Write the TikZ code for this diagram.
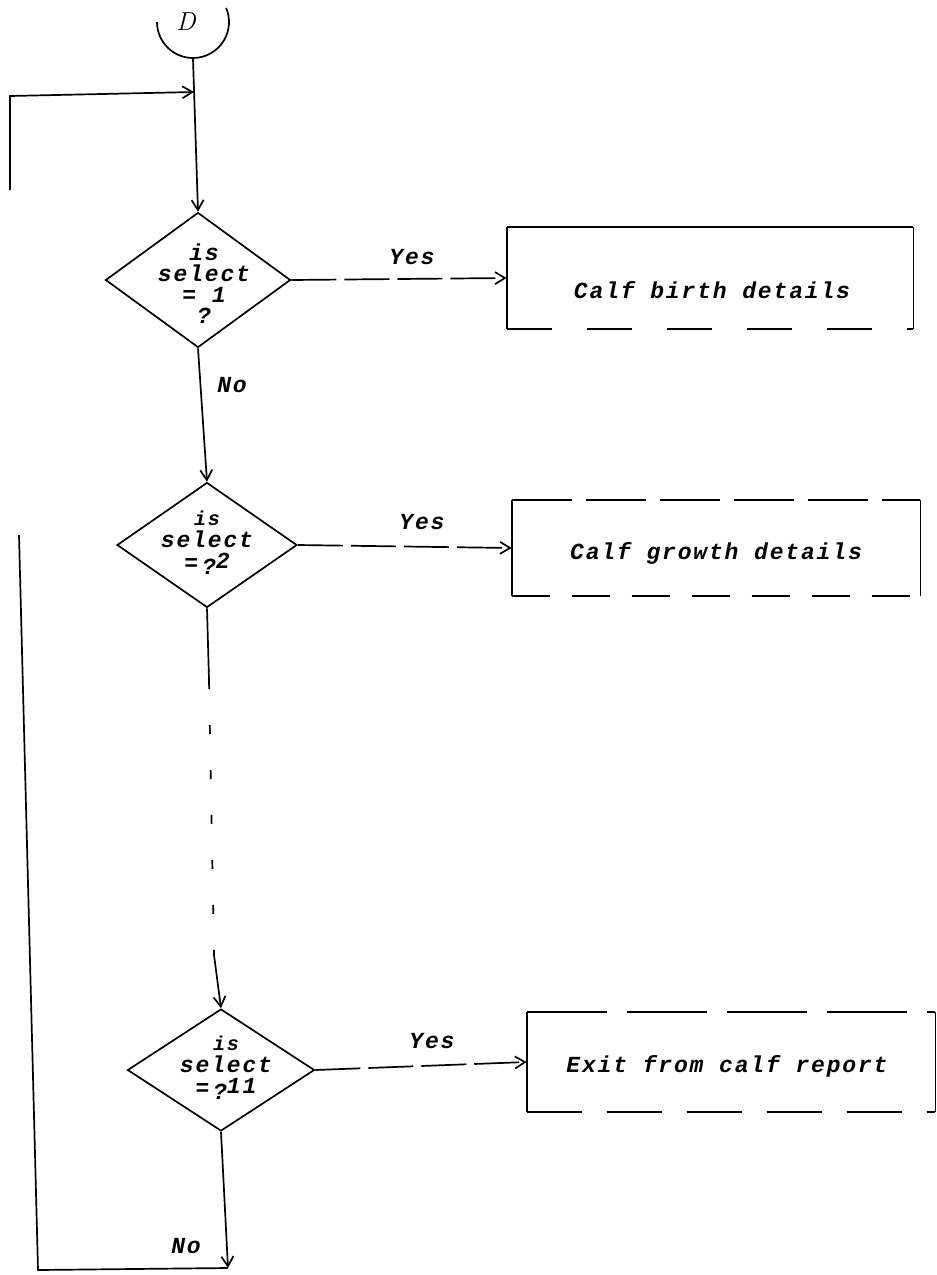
\documentclass[tikz,border=0pt]{standalone}
\usepackage{fontspec}
\newfontfamily\tw[LetterSpace=8]{Liberation Mono}
\usetikzlibrary{arrows.meta,shapes.geometric}
\begin{document}
\begin{tikzpicture}[x=1pt,y=-1pt,line width=1.7pt,
  >={Straight Barb[length=10pt,width=12pt,line width=1.7pt]},
  txt/.style={font=\tw\bfseries\itshape\fontsize{23}{22}\selectfont},
  decision/.style={draw,diamond,inner sep=0pt},
  dtext/.style={txt,align=center,inner sep=0pt},
  procbox/.style={txt,inner sep=0pt},
  yesline/.style={->,dash pattern=on 45pt off 8pt},
  lbl/.style={txt,inner sep=0pt}]
\useasboundingbox (0,0) rectangle (937,1275);

% connector D
\node[circle,minimum size=72pt,inner sep=0pt,font=\itshape\fontsize{26}{28}\selectfont] (D) at (193,22) {\hspace{-14pt}D};
\draw (157,22) arc[start angle=180,end angle=-23,radius=36];

% decisions
\node[decision,minimum width=185pt,minimum height=135pt] (d1) at (198,280) {};
\node[dtext,font=\tw\bfseries\itshape\fontsize{23}{21}\selectfont] (d1t) at (204,284) {is\\select\\=\ 1\\?};
\node[decision,minimum width=180pt,minimum height=125pt] (d2) at (207,545) {};
\node[dtext] (d2t) at (207,543) {{\fontsize{20}{21}\selectfont is}\\select\\[1pt]=\,\raisebox{-4pt}{?}\raisebox{2pt}{2}};
\node[decision,minimum width=187pt,minimum height=122pt] (d3) at (221,1070) {};
\node[dtext] (d3t) at (226,1068) {{\fontsize{20}{21}\selectfont is}\\select\\[1pt]=\,\raisebox{-4pt}{?}\raisebox{2pt}{11}};

% boxes
\node[procbox,minimum width=405pt,minimum height=100pt] (b1) at (710,278) {};
\node[txt,inner sep=0pt] (b1t) at (712,290) {Calf birth details};
\node[procbox,minimum width=407pt,minimum height=94pt] (b2) at (716,548) {};
\node[txt,inner sep=0pt] (b2t) at (716,553) {Calf growth details};
\node[procbox,minimum width=407pt,minimum height=98pt] (b3) at (731,1062) {};
\node[txt,inner sep=0pt] (b3t) at (727,1066) {Exit from calf report};

\foreach \b in {b1,b2,b3}{
  \draw (\b.south east) -- (\b.north east);
  \draw (\b.south west) -- (\b.north west);
}
\draw (b1.north west) -- (b1.north east);
\draw[dash pattern=on 45pt off 35pt] (b1.south west) -- (b1.south east);
\draw[dash pattern=on 60pt off 14pt] (b2.north west) -- (b2.north east);
\draw[dash pattern=on 38pt off 22pt] (b2.south west) -- (b2.south east);
\draw[dash pattern=on 80pt off 20pt] (b3.north west) -- (b3.north east);
\draw[dash pattern=on 55pt off 25pt] (b3.south west) -- (b3.south east);

% main flow
\coordinate (J) at (194,92);
\draw[->] (D.south) -- (d1.north);
\coordinate (L1) at (10,190);
\coordinate (L2) at (10,96);
\draw[->] (L1) -- (L2) -- (J);

\draw[->] (d1.south) -- (d2.north);
\node[lbl] (no1) at (232,385) {No};

\coordinate (c1) at (209,680);
\coordinate (c2) at (214,955);
\draw (d2.south) -- (c1);
\draw[dash pattern=on 9pt off 36pt] (c1) -- (c2);
\draw[->] (c2) -- (d3.north);

% yes arrows
\draw[yesline] (d1.east) -- (b1.west);
\node[lbl] (y1) at (412,257) {Yes};
\draw[yesline] (d2.east) -- (b2.west);
\node[lbl] (y2) at (422,522) {Yes};
\draw[yesline] (d3.east) -- (b3.west);
\node[lbl] (y3) at (432,1041) {Yes};

% bottom loop
\coordinate (B) at (228,1268);
\coordinate (BL) at (38,1270);
\coordinate (TL) at (19,535);
\draw[->] (d3.south) -- (B);
\draw (B) -- (BL) -- (TL);
\node[lbl] (no2) at (186,1246) {No};
\end{tikzpicture}
\end{document}
